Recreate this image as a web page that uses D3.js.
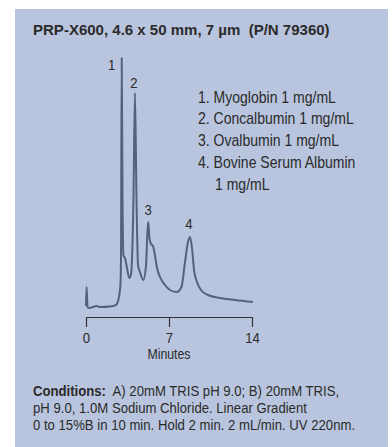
<!DOCTYPE html>
<html><head><meta charset="utf-8">
<script src="https://cdn.jsdelivr.net/npm/d3@7"></script>
<style>
html,body{margin:0;padding:0;background:#fff;}
svg{display:block;}
</style></head>
<body>
<svg id="chart" width="392" height="447"></svg>
<script>
// ---- data ----
const title = "PRP-X600, 4.6 x 50 mm, 7 µm\u00a0\u00a0(P/N 79360)";
const timeMin = [0,0.05,0.13,0.25,0.93,1.1,2.02,2.53,2.78,2.91,2.95,3.01,3.08,3.16,3.29,3.42,3.65,3.8,4.0,4.13,4.26,4.39,4.55,4.83,5.06,5.19,5.25,5.35,5.48,5.65,5.82,5.99,6.24,6.66,7.08,7.65,8.05,8.35,8.6,8.77,8.94,9.11,9.36,9.7,10.29,11.3,12.57,14.08];
const signal  = [0.8,8.4,0.4,0,0.8,0.4,0.6,1.2,4.4,10,19,100,43,21,20,17,12,13.6,43,86,43,17,14.4,11.2,17,31,34.4,28,25.6,24.8,21,16,12.4,9.2,7.2,6.4,8.4,18.4,26.4,28.4,24,15.2,10.4,7.2,5.2,4,3.2,2.4];
const peakLabels = ["1","2","3","4"];
const peakTimes  = [3.01,4.13,5.25,8.77];
const peakHeights= [100,86,34.4,28.4];
const legendLines = ["1. Myoglobin 1 mg/mL","2. Concalbumin 1 mg/mL","3. Ovalbumin 1 mg/mL","4. Bovine Serum Albumin","1 mg/mL"];
const xTicks = [0,7,14];
const xLabel = "Minutes";
const condBold = "Conditions:";
const condLines = ["\u00a0 A) 20mM TRIS pH 9.0; B) 20mM TRIS,","pH 9.0, 1.0M Sodium Chloride. Linear Gradient","0 to 15%B in 10 min. Hold 2 min. 2 mL/min. UV 220nm."];

// ---- drawing ----
const FONT = "'Liberation Sans',Arial,sans-serif";
const svg = d3.select("#chart");
const textColor = "#2b2b2b";
svg.append("rect").attr("x",15).attr("y",9).attr("width",373).attr("height",438).attr("fill","#b9c5de");

// condensation factor so that the first legend line matches the reference's condensed face
const probe = svg.append("text").attr("font-family",FONT).attr("font-size",16).text(legendLines[0]);
const K = 138 / probe.node().getComputedTextLength();
probe.remove();

function ctext(parent, px, py, size, anchor){
  return parent.append("text").attr("transform",`translate(${px},${py}) scale(${K},1)`)
    .attr("font-family",FONT).attr("font-size",size).attr("fill",textColor)
    .attr("text-anchor",anchor||"start");
}

// title (bold), fit to reference width
const tt = svg.append("text").attr("font-family",FONT).attr("font-weight","bold").attr("font-size",15.5)
  .attr("fill",textColor).text(title);
const tk = 297 / tt.node().getComputedTextLength();
tt.attr("transform",`translate(33,35) scale(${tk},1)`);

const x = d3.scaleLinear().domain([0,14]).range([86,252]);
const y = d3.scaleLinear().domain([0,100]).range([308,58]);

const line = d3.line().x((d,i)=>x(timeMin[i])).y((d,i)=>y(signal[i])).curve(d3.curveMonotoneX);
svg.append("path").datum(signal).attr("d",line)
  .attr("fill","none").attr("stroke","#55607a").attr("stroke-width",2).attr("stroke-linejoin","round");

const offs = [[-10,12],[-1,-5],[0,-7],[-1,-8]];
peakLabels.forEach((d,i)=>{
  ctext(svg, x(peakTimes[i])+offs[i][0], y(peakHeights[i])+offs[i][1], 15, "middle").text(d);
});

legendLines.forEach((d,i)=>{
  ctext(svg, i===4 ? 215 : 198, 102.5+i*21.8, 16).text(d);
});

const axis = d3.axisBottom(x).tickValues(xTicks).tickSize(10).tickSizeOuter(0).tickPadding(5);
const ag = svg.append("g").attr("transform","translate(0,317)").call(axis);
ag.select(".domain").attr("stroke","#333").attr("stroke-width",1.2);
ag.selectAll(".tick line").attr("stroke","#333").attr("stroke-width",1.2);
ag.selectAll(".tick text").attr("font-family",FONT).attr("font-size",15).attr("fill",textColor)
  .attr("transform",`scale(${K},1)`);

ctext(svg, x(7), 359, 14, "middle").text(xLabel);

condLines.forEach((l,i)=>{
  const t = ctext(svg, 33, 396+i*17, 15);
  if(i===0){
    t.append("tspan").attr("font-weight","bold").text(condBold);
    t.append("tspan").text(l);
  } else t.text(l);
});
</script>
</body></html>
